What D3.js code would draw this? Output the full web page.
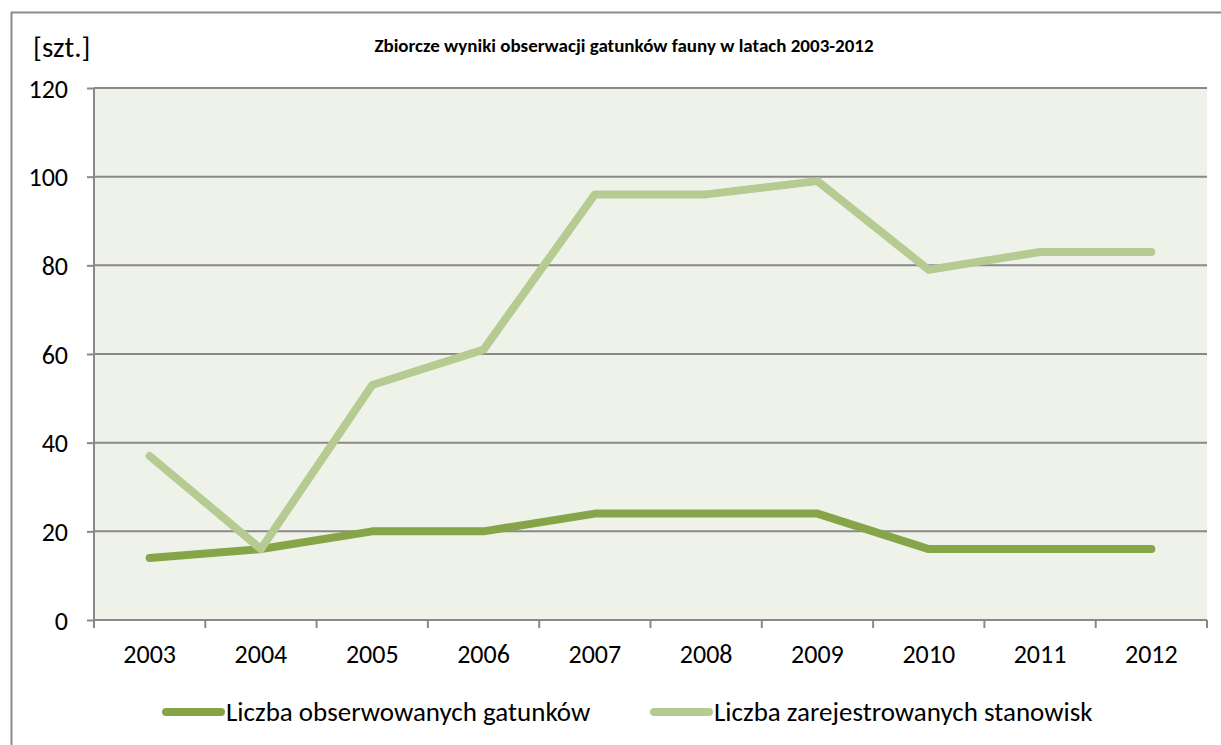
<!DOCTYPE html>
<html><head><meta charset="utf-8">
<script src="https://cdn.jsdelivr.net/npm/d3@7"></script>
<style>html,body{margin:0;padding:0;background:#fff;}svg{display:block;}</style>
</head><body>
<svg id="c" width="1221" height="745"></svg>
<script>
const years = ["2003","2004","2005","2006","2007","2008","2009","2010","2011","2012"];
const gatunki = [14,16,20,20,24,24,24,16,16,16];
const stanowiska = [37,16,53,61,96,96,99,79,83,83];
const yTicks = [0,20,40,60,80,100,120];
const seriesNames = ["Liczba obserwowanych gatunków","Liczba zarejestrowanych stanowisk"];
const seriesColors = ["#86a448","#b5cb91"];
const titleText = "Zbiorcze wyniki obserwacji gatunków fauny w latach 2003-2012";
const unitText = "[szt.]";

const svg = d3.select("#c");
const font = "Carlito, Calibri, 'Open Sans', 'Liberation Sans', sans-serif";
const m = {l:94, r:1207, t:88, b:620};

// outer frame
svg.append("rect").attr("x",11.5).attr("y",12.5).attr("width",1300).attr("height",800)
  .attr("fill","none").attr("stroke","#8c8c8c").attr("stroke-width",2);

const x = d3.scaleBand().domain(years).range([m.l,m.r]);
const y = d3.scaleLinear().domain([0,120]).range([m.b,m.t]);

svg.append("rect").attr("x",m.l).attr("y",m.t).attr("width",m.r-m.l).attr("height",m.b-m.t).attr("fill","#eff2e9");

// gridlines
svg.append("g").selectAll("line").data(yTicks.filter(d=>d>0)).join("line")
  .attr("x1",m.l).attr("x2",m.r).attr("y1",d=>y(d)).attr("y2",d=>y(d))
  .attr("stroke","#898989").attr("stroke-width",2);

// y axis
const ya = svg.append("g").attr("transform",`translate(${m.l},0)`)
  .call(d3.axisLeft(y).tickValues(yTicks).tickSize(7).tickPadding(19));
ya.select(".domain").attr("stroke","#898989").attr("stroke-width",2).attr("d",`M0,${m.t}V${m.b}`);
ya.selectAll(".tick line").attr("stroke","#898989").attr("stroke-width",2);
ya.selectAll(".tick text").attr("font-family",font).attr("font-size",26).attr("fill","#000").attr("dy","0.35em");

// x axis
const xa = svg.append("g").attr("transform",`translate(0,${m.b})`)
  .call(d3.axisBottom(x).tickSize(0).tickPadding(25));
xa.select(".domain").attr("stroke","#898989").attr("stroke-width",2).attr("d",`M${m.l},0H${m.r}`);
xa.selectAll(".tick text").attr("font-family",font).attr("font-size",26).attr("fill","#000");
// category boundary ticks
const bounds = years.map(d=>x(d)).concat([m.r]);
xa.append("g").selectAll("line").data(bounds).join("line")
  .attr("x1",d=>d).attr("x2",d=>d).attr("y1",0).attr("y2",8)
  .attr("stroke","#898989").attr("stroke-width",2);

const line = d3.line().x((d,i)=>x(years[i])+x.bandwidth()/2).y(d=>y(d));
[gatunki, stanowiska].forEach((s,i)=>{
  svg.append("path").datum(s).attr("d",line).attr("fill","none")
    .attr("stroke",seriesColors[i]).attr("stroke-width",8)
    .attr("stroke-linecap","round").attr("stroke-linejoin","round");
});

// title
svg.append("text").attr("x",624).attr("y",52).attr("text-anchor","middle")
  .attr("font-family",font).attr("font-size",19).attr("font-weight","bold").text(titleText);
svg.append("text").attr("x",33).attr("y",57)
  .attr("font-family",font).attr("font-size",29).text(unitText);

// legend
const legX = [166, 654];
seriesNames.forEach((n,i)=>{
  const g = svg.append("g");
  g.append("line").attr("x1",legX[i]).attr("x2",legX[i]+55).attr("y1",712).attr("y2",712)
    .attr("stroke",seriesColors[i]).attr("stroke-width",8).attr("stroke-linecap","round");
  g.append("text").attr("x",legX[i]+60).attr("y",721).attr("font-family",font).attr("font-size",27).text(n);
});
</script>
</body></html>
